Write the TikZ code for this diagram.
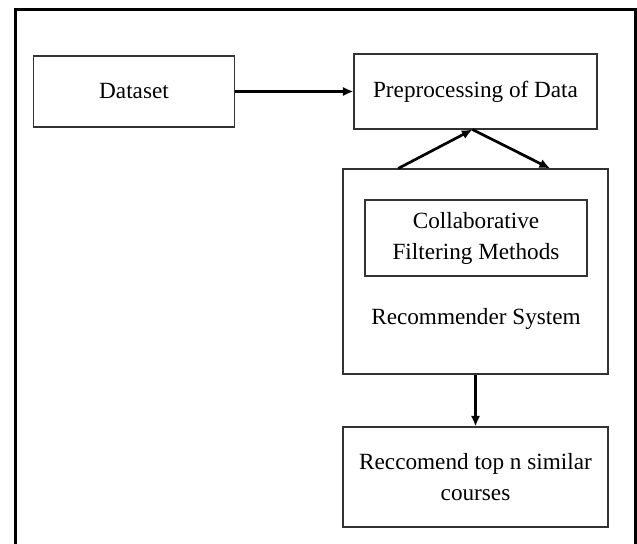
\documentclass[tikz,border=0pt]{standalone}
\usepackage{fontspec}
\setmainfont{Liberation Serif}
\usetikzlibrary{arrows.meta}
\usetikzlibrary{calc}

\begin{document}
\begin{tikzpicture}[
    x=0.03cm, y=-0.03cm,
    every node/.style={
        align=center, font=\fontsize{19.8}{26.5}\selectfont
    },
    box/.style={
        draw=black!80, line width=1pt, inner sep=0pt
    },
    flow/.style={
        line width=2.3pt,
        -{Latex[length=9pt,width=8pt]}
    }
]
    \useasboundingbox (0,0) rectangle (637,544);
    \draw [line width=2.8pt] (15.5,600) |- (635.5,9.5) -- (635.5,600);

    \node [box, minimum width=201*0.03cm, minimum height=71*0.03cm]
        (dataset) at (134,91.5) {Dataset};
    \node [box, minimum width=243*0.03cm, minimum height=75*0.03cm]
        (preproc) at (475.5,91.5) {Preprocessing of Data};
    \node [box, minimum width=265*0.03cm, minimum height=205*0.03cm]
        (recsys) at (475.5,271.5) {};
    \node [box, minimum width=222*0.03cm, minimum height=76*0.03cm]
        (cfm) at (476,238) {Collaborative\\Filtering Methods};
    \node [anchor=base] (reclabel) at (476,325) {Recommender System};
    \node [box, minimum width=265*0.03cm, minimum height=100*0.03cm]
        (topn) at (475.5,477) {Reccomend top n similar\\courses};

    \draw [flow] (dataset.east) -- (dataset.east -| preproc.west);
    \draw [flow] ($(recsys.north west)!0.21!(recsys.north east)$)
        -- ($(preproc.south)+(-3,0)$);
    \draw [flow] ($(preproc.south)+(-3,0)$)
        -- ($(recsys.north west)!0.78!(recsys.north east)$);
    \draw [flow] (recsys.south) -- (topn.north);

\end{tikzpicture}
\end{document}
